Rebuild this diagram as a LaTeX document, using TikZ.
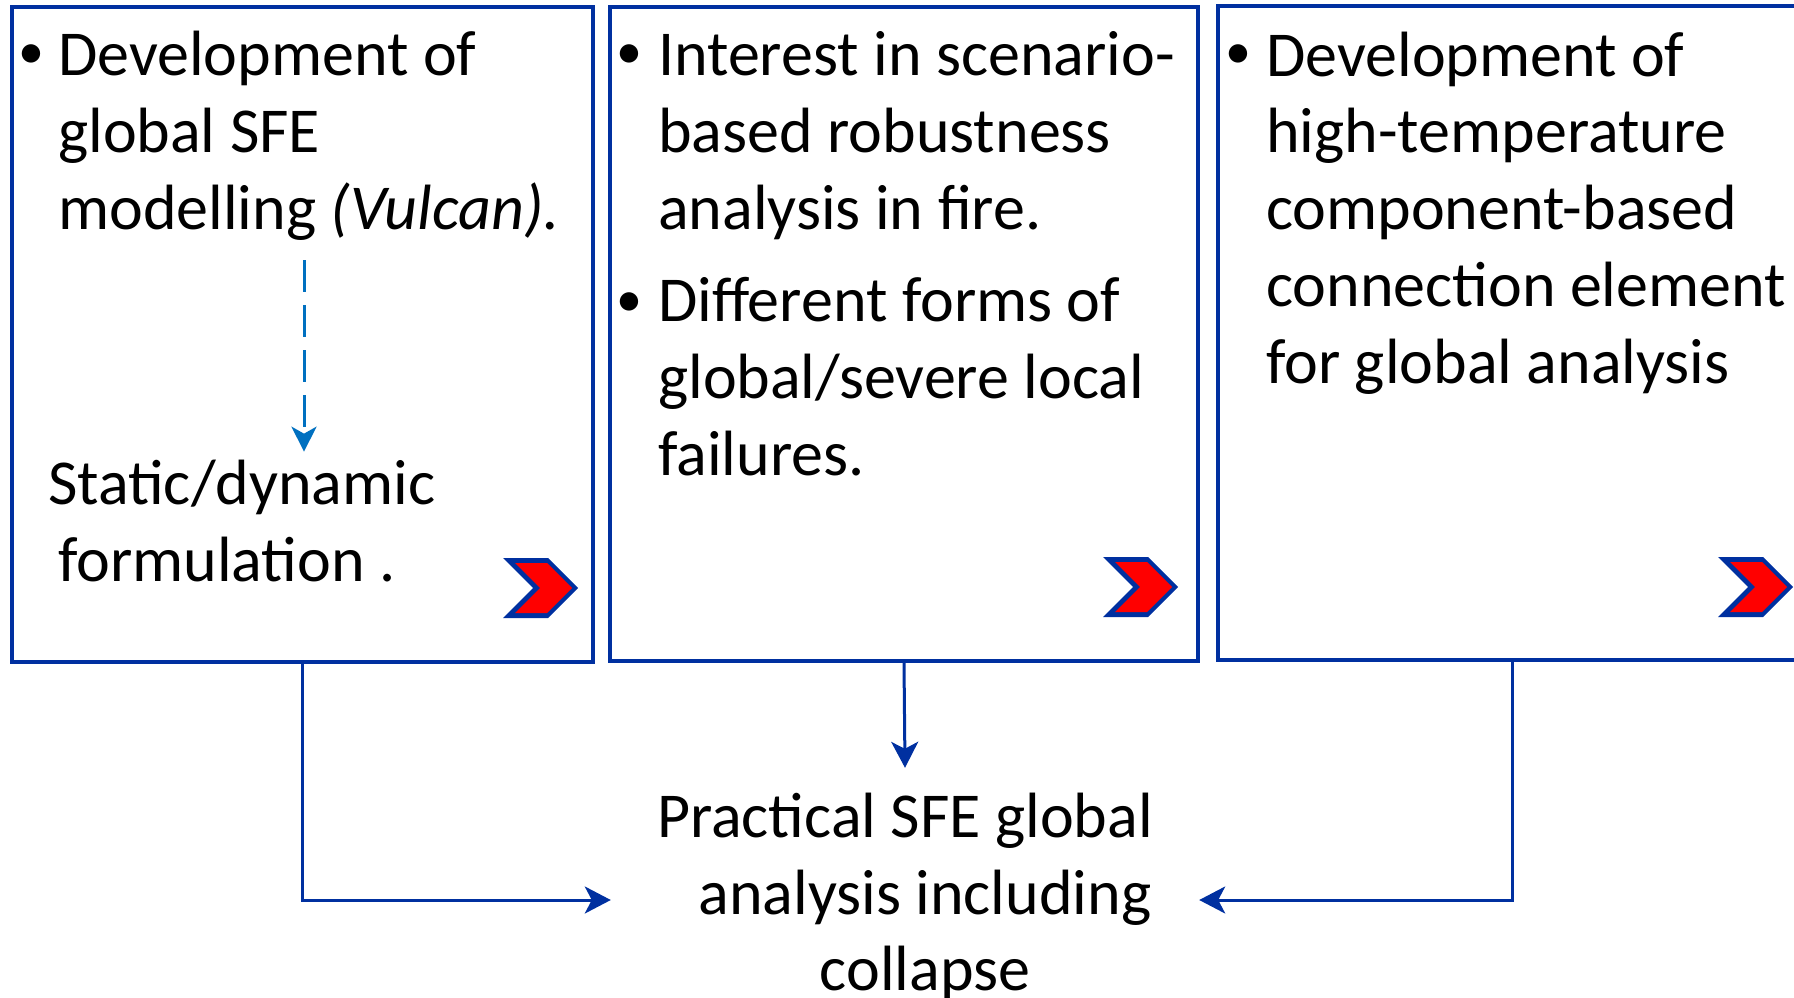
\documentclass[tikz,border=0pt]{standalone}
\usepackage{fontspec}
\setmainfont{Carlito}
\usetikzlibrary{arrows.meta}

\definecolor{frameblue}{RGB}{0,48,160}
\definecolor{linkblue}{RGB}{0,48,160}
\definecolor{dashblue}{RGB}{0,112,192}
\definecolor{chevred}{RGB}{255,0,0}

\tikzset{
  panel/.style={draw=frameblue, line width=3.5pt, fill=none, inner sep=0pt},
  % multi-line text: the base anchor sits on the last line
  body/.style={anchor=base west, align=left, inner sep=0pt,
    font=\fontsize{64}{76.7}\selectfont},
  dot/.style={anchor=base west, inner sep=0pt, font=\fontsize{52}{60}\selectfont},
  link/.style={draw=linkblue, line width=3pt,
    -{Stealth[length=26pt,width=27pt,inset=7pt]}},
  dashlink/.style={draw=dashblue, line width=3pt, dash pattern=on 32pt off 13pt,
    -{Stealth[length=25pt,width=25pt,inset=7pt]}},
  chevron/.pic={
    \fill[frameblue] (0,0)--(45,0)--(75,30)--(45,60)--(0,60)--(30,30)--cycle;
    \fill[chevred] (12,5)--(44,5)--(69,30)--(44,55)--(12,55)--(37,30)--cycle;
  }
}

\begin{document}
\begin{tikzpicture}[x=1pt,y=-1pt]
\useasboundingbox (0,0) rectangle (1794,998);

% three panels
\node[panel, minimum width=581pt, minimum height=655pt] (b1) at (302.5,334.5) {};
\node[panel, minimum width=588pt, minimum height=654pt] (b2) at (904,334) {};
\node[panel, minimum width=588pt, minimum height=654pt] (b3) at (1512,333) {};

% panel 1
\node[dot] (d1) at (18.5,69) {•};
\node[body] (t1) at (58,229) {Development of\\global SFE\\modelling \textit{(Vulcan).}};
\node[body] (st) at (48,581) {Static/dynamic\\\hspace*{10pt}formulation .};

% panel 2
\node[dot] (d2) at (616.5,69) {•};
\node[body] (t2) at (658,229) {Interest in scenario-\\based robustness\\analysis in fire.};
\node[dot] (d3) at (616.5,316) {•};
\node[body] (t3) at (658,475) {Different forms of\\global/severe local\\failures.};

% panel 3
\node[dot] (d4) at (1225.5,69) {•};
\node[body] (t4) at (1266,383) {Development of\\high-temperature\\component-based\\connection element\\for global analysis};

% outcome
\node[inner sep=0pt, align=center, minimum width=588pt, minimum height=258pt,
  font=\fontsize{64}{76.7}\selectfont] (out) at (905,897)
  {Practical SFE global\\\hspace*{40pt}analysis including\\\hspace*{40pt}collapse};

% chevrons
\pic at (503,558) {chevron};
\pic at (1103,557) {chevron};
\pic at (1718,557) {chevron};

% connectors
\draw[dashlink, shorten >=8pt] ([xshift=1.5pt,yshift=-20pt]b1.south |- t1.south)
  -- ([xshift=1.5pt]b1.south |- st.north);
\draw[link] (b1.south) |- ([yshift=-3pt]out.west);
\draw[link] (b3.south) |- ([yshift=-3pt]out.east);
\draw[link] (b2.south) -- (out.north);
\end{tikzpicture}
\end{document}
